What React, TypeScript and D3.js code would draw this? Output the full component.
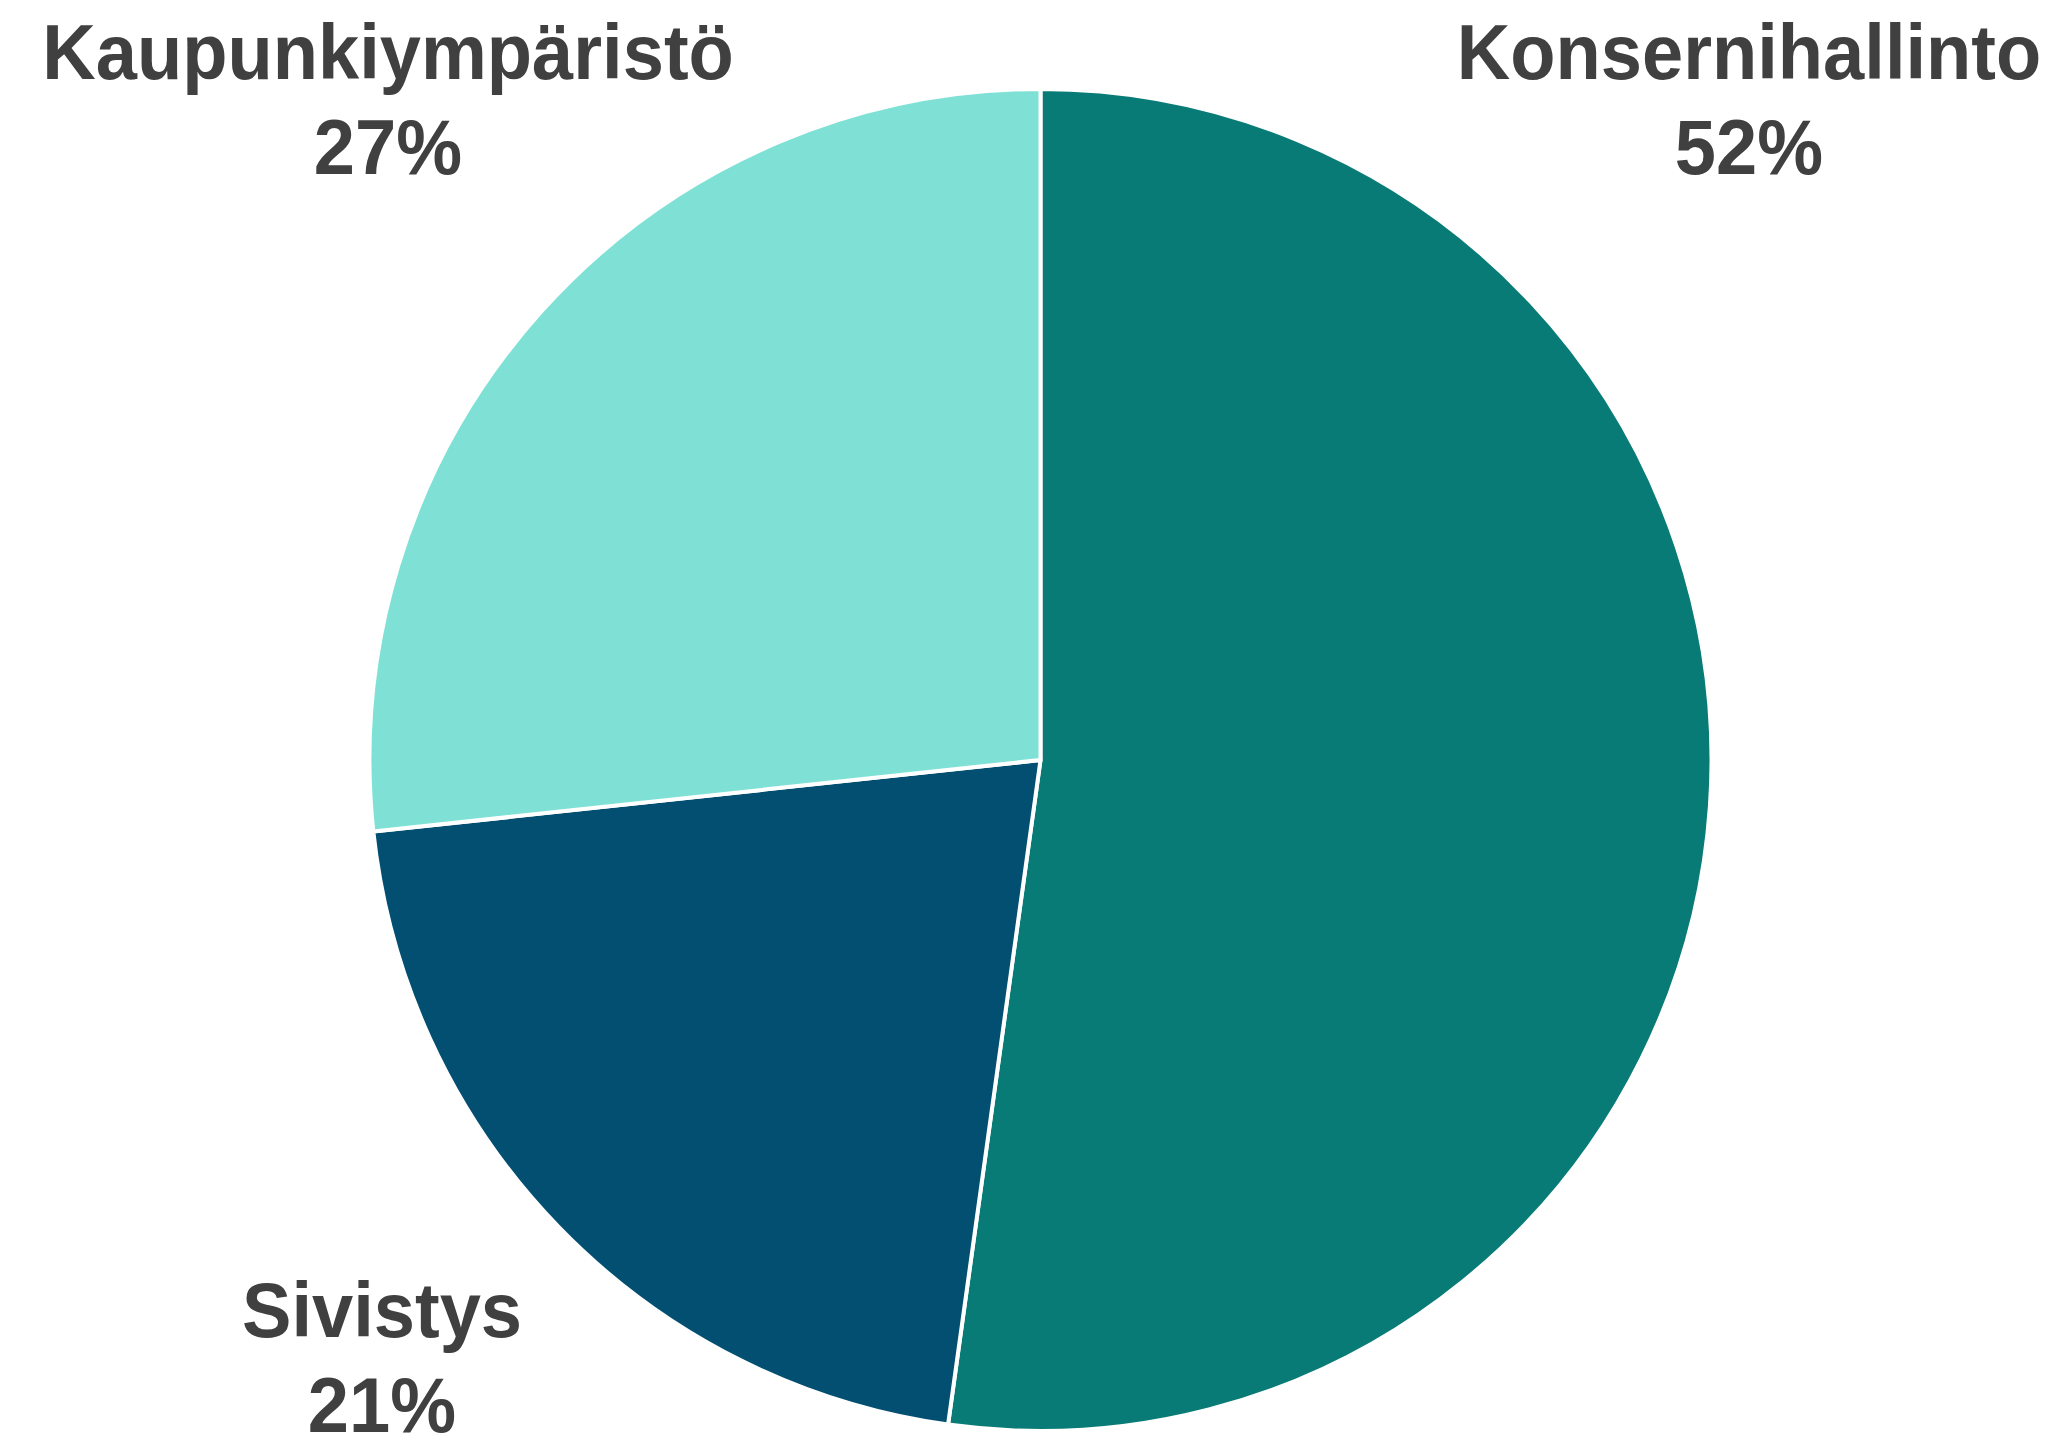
import { useEffect, useRef } from "react";
import * as d3 from "d3";

// slice order: clockwise from 12 o'clock
const categories = ["Konsernihallinto", "Sivistys", "Kaupunkiympäristö"];
const shares = [52.2, 21.1, 26.7];
const pctLabels = ["52%", "21%", "27%"];
const colors = ["#097B76", "#024F71", "#7FE1D5"];

// label anchors (centre x, baseline of first line)
const labelPos: [number, number][] = [
  [1749, 79],
  [382, 1337],
  [388, 79],
];

const W = 2055,
  H = 1440;

const App = () => {
  const ref = useRef<SVGSVGElement | null>(null);

  useEffect(() => {
    const svg = d3.select(ref.current);
    svg.selectAll("*").remove();

    const cx = 1040.5,
      cy = 760,
      r = 671;

    const pie = d3
      .pie<number>()
      .sort(null)
      .value((d) => d);
    const arc = d3.arc<d3.PieArcDatum<number>>().innerRadius(0).outerRadius(r);

    const g = svg.append("g").attr("transform", `translate(${cx},${cy})`);
    g.selectAll("path")
      .data(pie(shares))
      .enter()
      .append("path")
      .attr("d", arc)
      .attr("fill", (_, i) => colors[i])
      .attr("stroke", "#ffffff")
      .attr("stroke-width", 4)
      .attr("stroke-linejoin", "round");

    // reference face is a touch more condensed than Liberation Sans
    const labels = svg.append("g").attr("class", "labels");
    categories.forEach((name, i) => {
      const [x, y] = labelPos[i];
      const t = labels
        .append("g")
        .attr("transform", `translate(${x},${y}) scale(0.95,1)`)
        .append("text")
        .attr("text-anchor", "middle")
        .attr("fill", "#404040")
        .style("font-family", "'Liberation Sans', Arial, sans-serif")
        .style("font-weight", "bold")
        .style("font-size", "78px");
      t.append("tspan").attr("x", 0).attr("y", 0).text(name);
      t.append("tspan").attr("x", 0).attr("dy", 95).text(pctLabels[i]);
    });
  }, []);

  return (
    <svg
      ref={ref}
      width={W}
      height={H}
      style={{ position: "absolute", left: 0, top: 0, background: "#ffffff" }}
    />
  );
};

export default App;
